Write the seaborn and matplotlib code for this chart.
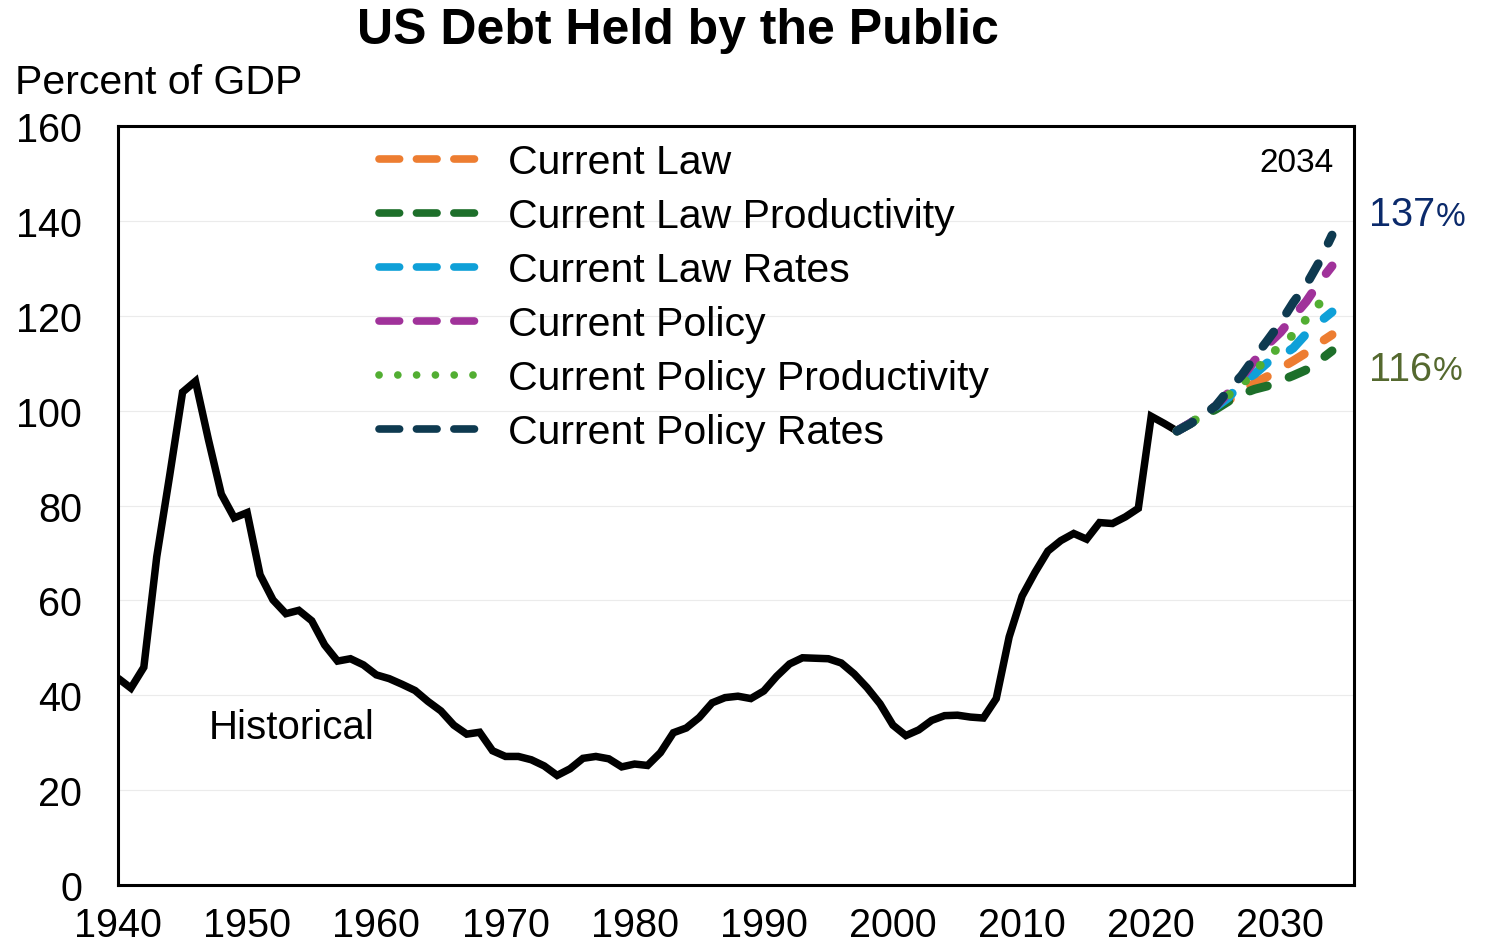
import matplotlib
matplotlib.use("Agg")
import matplotlib.pyplot as plt
import numpy as np
import pandas as pd
import seaborn as sns

# ---- data -------------------------------------------------------------
hist_years = list(range(1940, 2023))
hist_debt = [
    43.6, 41.5, 45.9, 69.2, 86.3, 103.9, 106.2, 93.9, 82.4, 77.4,   # 1940s
    78.5, 65.4, 60.1, 57.2, 57.9, 55.7, 50.6, 47.2, 47.7, 46.4,     # 1950s
    44.3, 43.5, 42.3, 41.0, 38.7, 36.7, 33.7, 31.8, 32.2, 28.3,     # 1960s
    27.1, 27.1, 26.4, 25.1, 23.1, 24.5, 26.7, 27.1, 26.6, 24.9,     # 1970s
    25.5, 25.2, 27.9, 32.1, 33.1, 35.3, 38.4, 39.5, 39.8, 39.3,     # 1980s
    40.9, 44.0, 46.6, 47.9, 47.8, 47.7, 46.8, 44.5, 41.6, 38.2,     # 1990s
    33.7, 31.5, 32.7, 34.7, 35.7, 35.8, 35.4, 35.2, 39.3, 52.3,     # 2000s
    60.9, 65.9, 70.4, 72.6, 74.1, 72.9, 76.4, 76.2, 77.6, 79.4,     # 2010s
    98.8, 97.3, 95.7,                                               # 2020-2022
]

proj_years = list(range(2022, 2035))
scenarios = [
    "Current Law",
    "Current Law Productivity",
    "Current Law Rates",
    "Current Policy",
    "Current Policy Productivity",
    "Current Policy Rates",
]
current_law = [95.7, 97.3, 99.1, 100.6, 102.2, 104.1, 105.8, 107.2, 108.9, 110.5, 112.2, 114.2, 116.0]
current_law_productivity = [95.7, 97.2, 98.9, 100.3, 102.0, 103.5, 104.5, 105.2, 106.3, 107.4, 108.6, 110.5, 112.6]
current_law_rates = [95.7, 97.3, 99.1, 100.8, 102.8, 106.0, 107.7, 110.1, 111.4, 113.2, 116.2, 118.6, 120.8]
current_policy = [95.7, 97.3, 99.1, 101.0, 103.8, 107.0, 110.5, 113.9, 116.5, 119.8, 123.0, 127.0, 130.5]
current_policy_productivity = [95.7, 97.3, 99.1, 100.9, 103.3, 105.4, 108.3, 111.1, 113.7, 116.0, 119.3, 122.5, 126.0]
current_policy_rates = [95.7, 97.2, 99.0, 101.0, 104.4, 107.4, 111.2, 114.8, 118.5, 122.8, 126.5, 131.3, 137.0]
scenario_values = [
    current_law, current_law_productivity, current_law_rates,
    current_policy, current_policy_productivity, current_policy_rates,
]

x_ticks = list(range(1940, 2031, 10))
y_ticks = list(range(0, 161, 20))

# ---- styling ------------------------------------------------------------
sns.set_style("white")
plt.rcParams["font.family"] = ["Liberation Sans", "DejaVu Sans"]
plt.rcParams["text.color"] = "black"

scenario_colors = ["#ED7D31", "#1D6F2A", "#0FA0D8", "#A0329A", "#52AE32", "#0E3A50"]
dash_long = (2.1, 2.7)
dot = (0.01, 2.45)
scenario_dashes = [dash_long, dash_long, dash_long, dash_long, dot, dash_long]
PROJ_LW = 6.4

hist_df = pd.DataFrame({"year": hist_years, "debt": hist_debt})
proj_df = pd.concat(
    [pd.DataFrame({"year": proj_years, "debt": vals, "scenario": name})
     for name, vals in zip(scenarios, scenario_values)],
    ignore_index=True,
)

W, H = 1485, 945
fig = plt.figure(figsize=(W / 100, H / 100), dpi=100)
ax = fig.add_axes([118 / W, 1 - 886 / H, (1354 - 118) / W, (886 - 127) / H])

sns.lineplot(data=hist_df, x="year", y="debt", color="black", linewidth=5.4,
             ax=ax, legend=False)
hist_line = ax.lines[-1]
hist_line.set_solid_joinstyle("miter")
hist_line.set_solid_capstyle("butt")

sns.lineplot(
    data=proj_df, x="year", y="debt",
    hue="scenario", hue_order=scenarios,
    palette=dict(zip(scenarios, scenario_colors)),
    style="scenario", style_order=scenarios,
    dashes=dict(zip(scenarios, scenario_dashes)),
    linewidth=PROJ_LW, ax=ax, legend=False,
)

# ---- axes -----------------------------------------------------------------
ax.set_xlim(1940, 2035.7)
ax.set_ylim(0, 160)
ax.set_xticks(x_ticks)
ax.set_yticks(y_ticks)
ax.set_xlabel("")
ax.set_ylabel("")
ax.yaxis.grid(True, color="#ebebeb", linewidth=0.8)
ax.xaxis.grid(False)
ax.set_axisbelow(True)
for s in ax.spines.values():
    s.set_visible(True)
    s.set_color("black")
    s.set_linewidth(2.2)
ax.tick_params(axis="both", direction="in", length=9, width=2, colors="black",
               labelsize=28.5)
ax.tick_params(axis="y", pad=26)
ax.tick_params(axis="x", pad=15)

# match the projection lines to their scenario by colour, and stretch each
# dash pattern slightly so every line finishes on a dash (or dot) at 2034
color_to_name = {matplotlib.colors.to_hex(c).lower(): n for c, n in zip(scenario_colors, scenarios)}
name_to_dash = dict(zip(scenarios, scenario_dashes))
handles = {}
for ln in ax.lines[1:]:
    name = color_to_name.get(matplotlib.colors.to_hex(ln.get_color()).lower())
    if name is None:
        continue
    handles[name] = ln
    xy = ax.transData.transform(np.column_stack(ln.get_data()))
    length_pt = np.hypot(*np.diff(xy, axis=0).T).sum() * 72 / fig.dpi
    on, off = name_to_dash[name]
    on_pt, period_pt = on * PROJ_LW, (on + off) * PROJ_LW
    if name_to_dash[name] is dot:
        n = max(1, round(length_pt / period_pt))
        k = length_pt / (n * period_pt)
    else:
        n = max(1, round((length_pt - 0.5 * on_pt) / period_pt))
        k = length_pt / (n * period_pt + 0.5 * on_pt)
    ln.set_dashes((on * k, off * k))
    ln.set_dash_capstyle("round")
    ln.set_solid_capstyle("round")

# ---- legend ---------------------------------------------------------------
leg = ax.legend(
    [handles[n] for n in scenarios], scenarios,
    loc="upper left", bbox_to_anchor=(379 / W, 1 - 144 / H),
    bbox_transform=fig.transFigure, frameon=False, fontsize=29.5,
    handlelength=2.56, handletextpad=0.6, labelspacing=0.39,
    borderpad=0, borderaxespad=0,
)
for lh, dsh in zip(leg.get_lines(), scenario_dashes):
    lh.set_linewidth(5.5)
    lh.set_dashes((2.7, 2.2) if dsh is dash_long else dot)
    lh.set_dash_capstyle("round")
for t in leg.get_texts():
    t.set_color("black")

# ---- text -----------------------------------------------------------------
fig.text(678 / W, 1 - 31 / H, "US Debt Held by the Public", ha="center", va="center",
         fontsize=36, fontweight="bold")
fig.text(15 / W, 1 - 83 / H, "Percent of GDP", ha="left", va="center", fontsize=29.5)
ax.text(1947.0, 33.4, "Historical", ha="left", va="center", fontsize=29)
ax.text(2034.1, 152.4, "2034", ha="right", va="center", fontsize=24)

end_labels = [
    (f"{current_policy_rates[-1]:.0f}", 141.4, "#0B2A6B"),
    (f"{current_law[-1]:.0f}", 108.8, "#55692F"),
]
fig.canvas.draw()
renderer = fig.canvas.get_renderer()
for txt, ypos, col in end_labels:
    t = ax.text(2036.9, ypos, txt, ha="left", va="center", fontsize=28.5,
                color=col, clip_on=False)
    bb = t.get_window_extent(renderer=renderer)
    fig.text(bb.x1 / W, (bb.y0 + bb.y1) / 2 / H - 0.002, "%", ha="left", va="center",
             fontsize=24, color=col)

fig.savefig("out.png", dpi=100)
